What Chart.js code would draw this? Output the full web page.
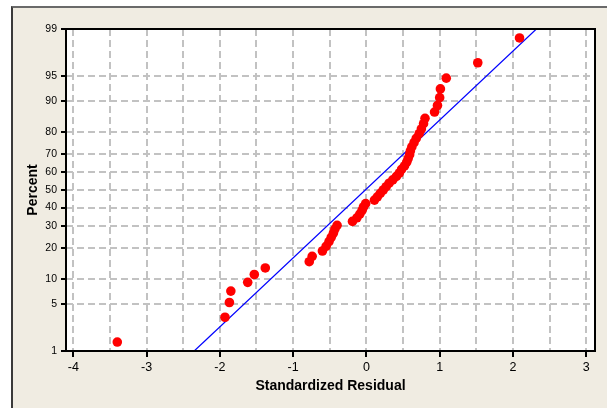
<!DOCTYPE html>
<html>
<head>
<meta charset="utf-8">
<script src="https://cdn.jsdelivr.net/npm/chart.js@4.4.1/dist/chart.umd.min.js"></script>
<style>
  html, body { margin: 0; padding: 0; background: #fff; }
  #wrap { position: relative; width: 607px; height: 408px; overflow: hidden; }
  #panel {
    position: absolute; left: 11px; top: 6px; width: 600px; height: 410px;
    background: #F0ECE2;
    border-left: 2px solid #3a3a3a;
    border-top: 2px solid #6a6a6a;
  }
  #chart { position: absolute; left: 0; top: 0; }
</style>
</head>
<body>
<div id="wrap">
  <div id="panel"></div>
  <canvas id="chart" width="607" height="408"></canvas>
</div>
<script>
// Standardized residuals (sorted) and their plotting percent
const RESID = [
  -3.40, -1.93, -1.87, -1.85, -1.62, -1.53, -1.38, -0.78, -0.74, -0.60,
  -0.55, -0.51, -0.48, -0.45, -0.43, -0.40, -0.19, -0.13, -0.09, -0.06,
  -0.04, -0.01, 0.11, 0.15, 0.19, 0.23, 0.27, 0.31, 0.36, 0.41,
  0.45, 0.48, 0.52, 0.55, 0.57, 0.59, 0.60, 0.62, 0.65, 0.68,
  0.72, 0.75, 0.78, 0.80, 0.93, 0.97, 1.00, 1.01, 1.09, 1.52,
  2.09
];
const PERCENT = [
  1.4, 3.3, 5.2, 7.2, 9.1, 11.1, 13.0, 15.0, 16.9, 18.9,
  20.8, 22.8, 24.7, 26.7, 28.6, 30.5, 32.5, 34.4, 36.4, 38.3,
  40.3, 42.2, 44.2, 46.1, 48.1, 50.0, 51.9, 53.9, 55.8, 57.8,
  59.7, 61.7, 63.6, 65.6, 67.5, 69.5, 71.4, 73.3, 75.3, 77.2,
  79.2, 81.1, 83.1, 85.0, 87.0, 88.9, 90.9, 92.8, 94.7, 96.7,
  98.6
];

// fitted normal line (ends at the 1% and 99% edges)
const FIT_X = [-2.35, 2.32];
const FIT_Y = [1, 99];

const X_GRID = [-4, -3.5, -3, -2.5, -2, -1.5, -1, -0.5, 0, 0.5, 1, 1.5, 2, 2.5, 3];
const X_LABELS = [-4, -3, -2, -1, 0, 1, 2, 3];
const PCT_TICKS = [1, 5, 10, 20, 30, 40, 50, 60, 70, 80, 90, 95, 99];

// inverse normal CDF (Acklam)
function probit(p) {
  const a = [-3.969683028665376e+01, 2.209460984245205e+02, -2.759285104469687e+02, 1.383577518672690e+02, -3.066479806614716e+01, 2.506628277459239e+00];
  const b = [-5.447609879822406e+01, 1.615858368580409e+02, -1.556989798598866e+02, 6.680131188771884e+01, -1.328068155288572e+01];
  const c = [-7.784894002430293e-03, -3.223964580411365e-01, -2.400758277161838e+00, -2.549732539343734e+00, 4.374664141464968e+00, 2.938163982698783e+00];
  const d = [7.784695709041462e-03, 3.224671290700398e-01, 2.445134137142996e+00, 3.754408661907416e+00];
  const pl = 0.02425;
  let q, r;
  if (p < pl) {
    q = Math.sqrt(-2 * Math.log(p));
    return (((((c[0]*q+c[1])*q+c[2])*q+c[3])*q+c[4])*q+c[5]) / ((((d[0]*q+d[1])*q+d[2])*q+d[3])*q+1);
  }
  if (p <= 1 - pl) {
    q = p - 0.5; r = q * q;
    return (((((a[0]*r+a[1])*r+a[2])*r+a[3])*r+a[4])*r+a[5])*q / (((((b[0]*r+b[1])*r+b[2])*r+b[3])*r+b[4])*r+1);
  }
  q = Math.sqrt(-2 * Math.log(1 - p));
  return -(((((c[0]*q+c[1])*q+c[2])*q+c[3])*q+c[4])*q+c[5]) / ((((d[0]*q+d[1])*q+d[2])*q+d[3])*q+1);
}

function normCdf(z) {
  const t = 1 / (1 + 0.3275911 * Math.abs(z) / Math.SQRT2);
  const y = 1 - (((((1.061405429*t - 1.453152027)*t) + 1.421413741)*t - 0.284496736)*t + 0.254829592)*t * Math.exp(-z*z/2);
  return z >= 0 ? (1 + y) / 2 : (1 - y) / 2;
}

// ─── probability (normal) axis ─────────────────────────────────────────────
class ProbabilityScale extends Chart.LinearScale {
  buildTicks() {
    return PCT_TICKS.map(v => ({ value: v }));
  }
  getPixelForValue(value) {
    const z0 = probit(this.min / 100), z1 = probit(this.max / 100);
    return this.getPixelForDecimal((probit(value / 100) - z0) / (z1 - z0));
  }
  getValueForPixel(pixel) {
    const z0 = probit(this.min / 100), z1 = probit(this.max / 100);
    return normCdf(z0 + this.getDecimalForPixel(pixel) * (z1 - z0)) * 100;
  }
}
ProbabilityScale.id = 'probability';
ProbabilityScale.defaults = {};
Chart.register(ProbabilityScale);

const framePlugin = {
  id: 'frame',
  beforeDraw(chart) {
    const { ctx, chartArea: a } = chart;
    ctx.save();
    ctx.fillStyle = '#ffffff';
    ctx.fillRect(a.left, a.top, a.right - a.left, a.bottom - a.top);
    ctx.restore();
  },
  afterDraw(chart) {
    const { ctx, chartArea: a } = chart;
    ctx.save();
    ctx.strokeStyle = '#000';
    ctx.lineWidth = 2;
    ctx.strokeRect(a.left, a.top, a.right - a.left, a.bottom - a.top);
    ctx.restore();
  }
};

const tickFont = { family: 'Liberation Sans', size: 12.5 };
const titleFont = { family: 'Liberation Sans', size: 14, weight: 'bold' };
const GRID_COLOR = '#c2c2c2';

new Chart(document.getElementById('chart'), {
  type: 'scatter',
  data: {
    datasets: [
      {
        label: 'Residuals',
        data: RESID.map((x, i) => ({ x: x, y: PERCENT[i] })),
        backgroundColor: '#ff0000',
        borderWidth: 0,
        pointRadius: 4.8,
        order: 1
      },
      {
        label: 'Fit',
        type: 'line',
        data: FIT_X.map((x, i) => ({ x: x, y: FIT_Y[i] })),
        borderColor: '#0000ff',
        borderWidth: 1.2,
        pointRadius: 0,
        fill: false,
        order: 2
      }
    ]
  },
  options: {
    responsive: false,
    animation: false,
    layout: { padding: { left: 25, right: 12, top: 29, bottom: 13 } },
    plugins: { legend: { display: false }, tooltip: { enabled: false } },
    scales: {
      x: {
        type: 'linear',
        min: -4.1,
        max: 3.12,
        afterBuildTicks: s => { s.ticks = X_GRID.map(v => ({ value: v })); },
        afterFit: s => { s.height = 44; },
        grid: {
          color: GRID_COLOR,
          lineWidth: 2,
          tickLength: 6,
          tickWidth: 2,
          tickBorderDash: [],
          tickColor: c => X_LABELS.includes(c.tick.value) ? '#000' : 'rgba(0,0,0,0)'
        },
        border: { display: false, dash: [7, 4] },
        ticks: {
          autoSkip: false,
          maxRotation: 0,
          padding: 3,
          color: '#000',
          font: tickFont,
          callback: v => X_LABELS.includes(v) ? String(v) : ''
        },
        title: { display: true, text: 'Standardized Residual', color: '#000', font: titleFont, padding: 0 }
      },
      y: {
        type: 'probability',
        position: 'left',
        min: 1,
        max: 99,
        afterFit: s => { s.width = 41; },
        grid: {
          color: GRID_COLOR,
          lineWidth: 2,
          tickLength: 5,
          tickWidth: 2,
          tickBorderDash: [],
          tickColor: '#000'
        },
        border: { display: false, dash: [7, 4] },
        ticks: {
          autoSkip: false,
          padding: 4,
          color: '#000',
          font: { family: 'Liberation Sans', size: 10.5 },
          callback: v => String(v)
        },
        title: { display: true, text: 'Percent', color: '#000', font: titleFont, padding: 0 }
      }
    }
  },
  plugins: [framePlugin]
});
</script>
</body>
</html>
